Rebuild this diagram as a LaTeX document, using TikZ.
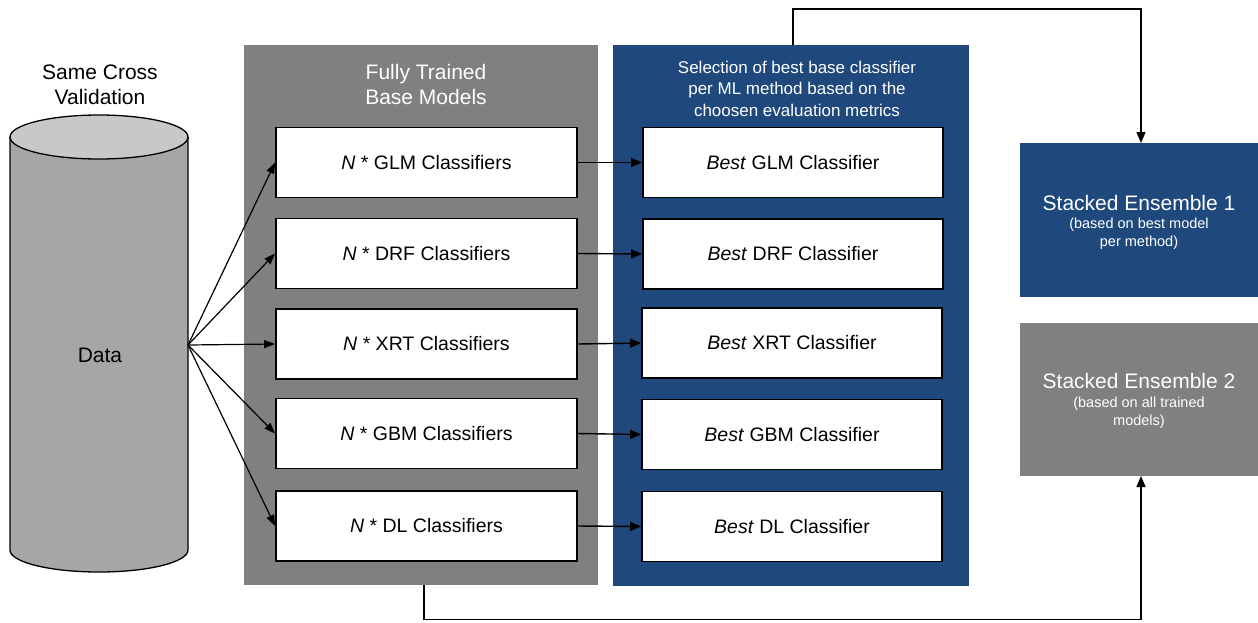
\documentclass[tikz,border=0pt]{standalone}
\usepackage{fontspec}
\setmainfont{Liberation Sans}
\usetikzlibrary{arrows.meta}
\definecolor{panelgray}{HTML}{808080}
\definecolor{panelblue}{HTML}{1F497D}
\definecolor{cylside}{HTML}{A6A6A6}
\definecolor{cyltop}{HTML}{C8C8C8}
\begin{document}
\begin{tikzpicture}[x=1pt,y=-1pt,
  panelbox/.style={inner sep=0pt, outer sep=0pt},
  clsbox/.style={draw=black, line width=1.8pt, fill=white, minimum width=301pt, minimum height=70pt, inner sep=0pt, font=\fontsize{19.5}{23}\selectfont},
  headtext/.style={text=white, align=center, inner sep=0pt},
  conn/.style={line width=1.4pt, -{Triangle[length=11pt,width=9pt]}},
  fan/.style={line width=1.2pt, -{Triangle[length=11pt,width=8pt]}},
  ensbox/.style={minimum width=238pt, minimum height=154pt, inner sep=0pt, outer sep=0pt, text=white, align=center}
]
\useasboundingbox (0,0) rectangle (1258,622);

% panels
\node[panelbox, fill=panelgray, minimum width=354pt, minimum height=540pt] (gray) at (421,315) {};
\node[panelbox, fill=panelblue, minimum width=356pt, minimum height=541pt] (blue) at (791,315.5) {};

% headers
\node[headtext, font=\fontsize{21}{25}\selectfont] (grayhead) at (426,84.5) {Fully Trained\\Base Models};
\node[headtext, font=\fontsize{17}{21.5}\selectfont] (bluehead) at (797,88.5) {Selection of best base classifier\\per ML method based on the\\choosen evaluation metrics};

% cylinder
\path[fill=cylside, draw=black, line width=1.3pt] (10,137) -- (10,550) arc[start angle=180, end angle=0, x radius=89, y radius=22] -- (188,137);
\path[fill=cyltop, draw=black, line width=1.3pt] (99,137) ellipse[x radius=89, y radius=22];
\node[font=\fontsize{21}{25}\selectfont, inner sep=0pt] (data) at (100,355) {Data};
\node[font=\fontsize{21}{25}\selectfont, align=center, inner sep=0pt] (cvtext) at (100,84.5) {Same Cross\\Validation};
\coordinate (dataR) at (188,345);

% left boxes
\node[clsbox] (nglm) at (426.5,162.5) {\textit{N} * GLM Classifiers};
\node[clsbox] (ndrf) at (426.5,253.5) {\textit{N} * DRF Classifiers};
\node[clsbox] (nxrt) at (426.5,344) {\textit{N} * XRT Classifiers};
\node[clsbox] (ngbm) at (426.5,433.5) {\textit{N} * GBM Classifiers};
\node[clsbox] (ndl)  at (426.5,526) {\textit{N} * DL Classifiers};

% right boxes
\node[clsbox, minimum width=300pt] (bglm) at (793,162.5) {\textit{Best} GLM Classifier};
\node[clsbox, minimum width=300pt] (bdrf) at (793,254) {\textit{Best} DRF Classifier};
\node[clsbox, minimum width=300pt] (bxrt) at (792,343) {\textit{Best} XRT Classifier};
\node[clsbox, minimum width=300pt] (bgbm) at (792,434.5) {\textit{Best} GBM Classifier};
\node[clsbox, minimum width=300pt] (bdl)  at (792,526.5) {\textit{Best} DL Classifier};

% ensembles
\node[ensbox, fill=panelblue] (se1) at (1139,220) {};
\node[text=white, align=center, inner sep=0pt, font=\fontsize{21}{25}\selectfont] (se1t) at (1139,203) {Stacked Ensemble 1};
\node[text=white, align=center, inner sep=0pt, font=\fontsize{14.5}{18}\selectfont] (se1s) at (1139,234) {(based on best model\\per method)};
\node[ensbox, fill=panelgray, minimum height=153pt] (se2) at (1139,399.5) {};
\node[text=white, align=center, inner sep=0pt, font=\fontsize{21}{25}\selectfont] (se2t) at (1139,381) {Stacked Ensemble 2};
\node[text=white, align=center, inner sep=0pt, font=\fontsize{14.5}{18}\selectfont] (se2s) at (1139,413) {(based on all trained\\models)};

% fan-out arrows
\foreach \t in {nglm,ndrf,nxrt,ngbm,ndl}
  \draw[fan] (dataR) -- (\t.west);

% horizontal arrows
\draw[conn] (nglm.east) -- (bglm.west);
\draw[conn] (ndrf.east) -- (bdrf.west);
\draw[conn] (nxrt.east) -- (bxrt.west);
\draw[conn] (ngbm.east) -- (bgbm.west);
\draw[conn] (ndl.east) -- (bdl.west);

% connectors to ensembles
\coordinate (bluetop) at (793,45);
\coordinate (graybot) at (424,585);
\draw[conn] (bluetop) -- (793,9) -| ([xshift=2pt]se1.north);
\draw[conn] (graybot) -- (424,619.5) -| ([xshift=2pt]se2.south);
\end{tikzpicture}
\end{document}
